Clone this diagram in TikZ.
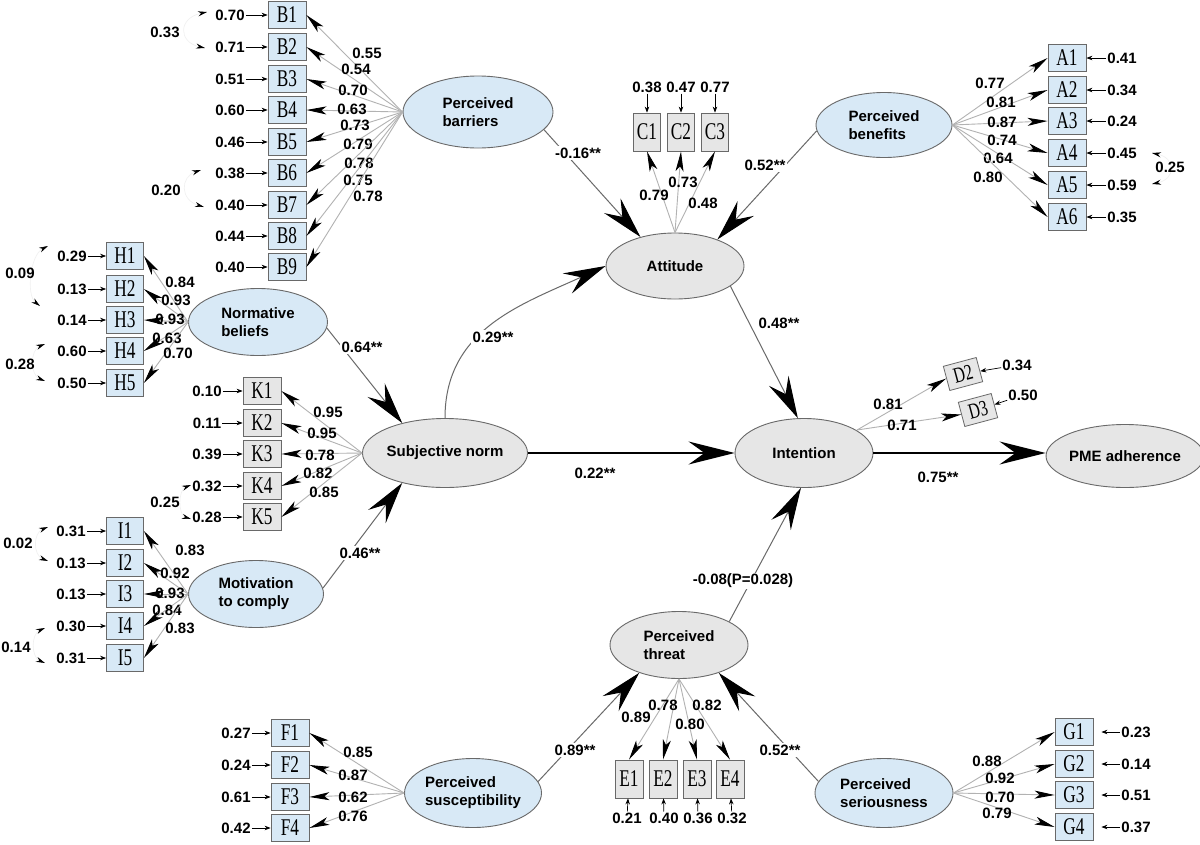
\documentclass[tikz,border=0pt]{standalone}
\usepackage{fontspec}
\setsansfont{Liberation Sans}
\newfontfamily\boxfont[FakeStretch=0.72]{Liberation Serif}
\usetikzlibrary{arrows.meta,shapes.geometric}
\definecolor{latblue}{RGB}{216,233,246}
\definecolor{latgray}{RGB}{230,230,230}
\definecolor{edgecol}{RGB}{105,105,105}
\tikzset{
  lat/.style={ellipse, draw=edgecol, line width=0.9pt, inner sep=0pt, align=left,
    font=\sffamily\bfseries\fontsize{15}{18}\selectfont},
  latb/.style={lat, fill=latblue},
  latg/.style={lat, fill=latgray},
  obs/.style={rectangle, draw=edgecol, line width=0.8pt, inner sep=0pt,
    minimum width=38pt, minimum height=27pt, font=\boxfont\fontsize{24}{24}\selectfont},
  obsv/.style={obs, minimum width=27pt, minimum height=38pt},
  num/.style={inner sep=1pt, font=\sffamily\bfseries\fontsize{15}{17}\selectfont},
  slab/.style={num, fill=white, inner sep=1.5pt},
  load/.style={draw=gray!60, line width=0.9pt, -{Stealth[length=20pt,width=8pt,inset=5pt,color=black]}},
  spath/.style={draw=edgecol, line width=1pt, -{Stealth[length=42pt,width=22pt,inset=15pt,color=black]}},
  mainpath/.style={draw=black, line width=2pt, -{Stealth[length=46pt,width=23pt,inset=16pt]}},
  err/.style={draw=black, line width=0.7pt, -{Stealth[length=6pt,width=4.5pt]}},
  cor/.style={draw=gray!12, line width=0.6pt,
    {Stealth[length=9pt,width=5pt,color=black]}-{Stealth[length=9pt,width=5pt,color=black]}}
}
\begin{document}
\begin{tikzpicture}[x=1pt,y=-1pt]
\useasboundingbox[fill=white] (0,0) rectangle (1200,844);

% ---------- latent variables ----------
\node[latb, minimum width=150pt, minimum height=72pt] (PB) at (478,112) {Perceived\\barriers};
\node[latg, minimum width=138pt, minimum height=66pt] (AT) at (675,266) {Attitude};
\node[latb, minimum width=136pt, minimum height=65pt] (PBe) at (884,125) {Perceived\\benefits};
\node[latb, minimum width=139pt, minimum height=67pt] (NB) at (258,322) {Normative\\beliefs};
\node[latg, minimum width=136pt, minimum height=69pt] (SN) at (445,453) {Subjective norm};
\node[latg, minimum width=138pt, minimum height=69pt] (IN) at (804,453) {Intention};
\node[latg, minimum width=146pt, minimum height=63pt] (PME) at (1125,456) {PME adherence};
\node[latb, minimum width=135pt, minimum height=67pt] (MC) at (256,594) {Motivation\\to comply};
\node[latg, minimum width=138pt, minimum height=67pt] (PT) at (679,645) {Perceived\\threat};
\node[latb, minimum width=137pt, minimum height=69pt] (PS) at (473,793) {Perceived\\susceptibility};
\node[latb, minimum width=138pt, minimum height=69pt] (PSe) at (884,793) {Perceived\\seriousness};

% ---------- B items ----------
\foreach \i/\y/\e/\lx/\ly/\l in {1/15/0.70/367/53/0.55, 2/47/0.71/356/69/0.54, 3/79/0.51/353/90/0.70,
  4/110/0.60/352/109/0.63, 5/142/0.46/355/125/0.73, 6/173/0.38/358/144/0.79,
  7/205/0.40/359/163/0.78, 8/236/0.44/358/180/0.75, 9/267/0.40/368/196/0.78}{
  \node[obs, fill=latblue] (B\i) at (287,\y) {B\i};
  \node[num] (eB\i) at (230,\y) {\e};
  \draw[err] (eB\i) -- (B\i);
  \draw[load] (PB.west) -- (B\i.east);
  \node[num] (lB\i) at (\lx,\ly) {\l};
}

% ---------- H items ----------
\foreach \i/\y/\e/\lx/\ly/\l in {1/256/0.29/180/282/0.84, 2/289/0.13/176/300/0.93,
  3/320/0.14/170/319/0.93, 4/351/0.60/167/338/0.63, 5/383/0.50/178/353/0.70}{
  \node[obs, fill=latblue, minimum width=37pt] (H\i) at (125,\y) {H\i};
  \node[num] (eH\i) at (72,\y) {\e};
  \draw[err] (eH\i) -- (H\i);
  \draw[load] (NB.west) -- (H\i.east);
  \node[num] (lH\i) at (\lx,\ly) {\l};
}

% ---------- K items ----------
\foreach \i/\y/\e/\lx/\ly/\l in {1/391/0.10/328/412/0.95, 2/423/0.11/322/433/0.95,
  3/454/0.39/320/455/0.78, 4/486/0.32/318/473/0.82, 5/517/0.28/324/492/0.85}{
  \node[obs, fill=latgray] (K\i) at (262,\y) {K\i};
  \node[num] (eK\i) at (207,\y) {\e};
  \draw[err] (eK\i) -- (K\i);
  \draw[load] (SN.west) -- (K\i.east);
  \node[num] (lK\i) at (\lx,\ly) {\l};
}

% ---------- I items ----------
\foreach \i/\y/\e/\lx/\ly/\l in {1/531/0.31/190/550/0.83, 2/563/0.13/175/573/0.92,
  3/594/0.13/170/593/0.93, 4/626/0.30/167/610/0.84, 5/658/0.31/180/628/0.83}{
  \node[obs, fill=latblue, minimum width=37pt] (I\i) at (125,\y) {I\i};
  \node[num] (eI\i) at (71,\y) {\e};
  \draw[err] (eI\i) -- (I\i);
  \draw[load] (MC.west) -- (I\i.east);
  \node[num] (lI\i) at (\lx,\ly) {\l};
}

% ---------- F items ----------
\foreach \i/\y/\e/\lx/\ly/\l in {1/733/0.27/358/752/0.85, 2/765/0.24/353/775/0.87,
  3/797/0.61/353/797/0.62, 4/828/0.42/353/816/0.76}{
  \node[obs, fill=latblue] (F\i) at (290,\y) {F\i};
  \node[num] (eF\i) at (236,\y) {\e};
  \draw[err] (eF\i) -- (F\i);
  \draw[load] (PS.west) -- (F\i.east);
  \node[num] (lF\i) at (\lx,\ly) {\l};
}

% ---------- A items ----------
\foreach \i/\y/\e/\lx/\ly/\l in {1/58/0.41/990/83/0.77, 2/90/0.34/1001/102/0.81,
  3/121/0.24/1002/122/0.87, 4/153/0.45/1002/140/0.74, 5/185/0.59/998/158/0.64,
  6/217/0.35/988/177/0.80}{
  \node[obs, fill=latblue] (A\i) at (1067,\y) {A\i};
  \node[num] (eA\i) at (1122,\y) {\e};
  \draw[err] (eA\i) -- (A\i);
  \draw[load] (PBe.east) -- (A\i.west);
  \node[num] (lA\i) at (\lx,\ly) {\l};
}

% ---------- G items ----------
\foreach \i/\y/\e/\lx/\ly/\l in {1/732/0.23/987/761/0.88, 2/764/0.14/1000/778/0.92,
  3/795/0.51/1000/797/0.70, 4/827/0.37/997/813/0.79}{
  \node[obs, fill=latblue] (G\i) at (1074,\y) {G\i};
  \node[num] (eG\i) at (1136,\y) {\e};
  \draw[err, shorten >=8pt] (eG\i) -- (G\i);
  \draw[load] (PSe.east) -- (G\i.west);
  \node[num] (lG\i) at (\lx,\ly) {\l};
}

% ---------- C items ----------
\foreach \i/\x/\e/\lx/\ly/\l in {1/647/0.38/654/195/0.79, 2/681/0.47/683/182/0.73,
  3/715/0.77/703/203/0.48}{
  \node[obsv, fill=latgray] (C\i) at (\x,132) {C\i};
  \node[num] (eC\i) at (\x,87) {\e};
  \draw[err] (eC\i) -- (C\i);
  \draw[load] (AT.north) -- (C\i.south);
  \node[num] (lC\i) at (\lx,\ly) {\l};
}

% ---------- E items ----------
\foreach \i/\x/\ex/\e/\lx/\ly/\l in {1/629/627/0.21/636/717/0.89, 2/663/664/0.40/663/705/0.78,
  3/697/698/0.36/690/724/0.80, 4/730/732/0.32/707/705/0.82}{
  \node[obsv, fill=latgray, minimum width=28pt] (E\i) at (\x,779) {E\i};
  \node[num] (eE\i) at (\ex,818) {\e};
  \draw[err] (eE\i) -- (E\i);
  \draw[load] (PT.south) -- (E\i.north);
  \node[num] (lE\i) at (\lx,\ly) {\l};
}

% ---------- D items ----------
\coordinate (inD) at (857,430);
\node[obs, fill=latgray, minimum width=34pt, minimum height=25pt, rotate=15,
  font=\boxfont\fontsize{22}{22}\selectfont] (D2) at (963,374) {D2};
\node[obs, fill=latgray, minimum width=34pt, minimum height=25pt, rotate=15,
  font=\boxfont\fontsize{22}{22}\selectfont] (D3) at (978,410) {D3};
\node[num] (eD2) at (1017,365) {0.34};
\node[num] (eD3) at (1023,395) {0.50};
\draw[err] (eD2) -- (D2);
\draw[err] (eD3) -- (D3);
\draw[load] (inD) -- (D2.west);
\draw[load] (inD) -- (D3.west);
\node[num] (lD2) at (888,404) {0.81};
\node[num] (lD3) at (902,425) {0.71};

% ---------- error covariances ----------
\coordinate (c33a) at (207,12);  \coordinate (c33b) at (205,48);
\draw[cor] (c33a) .. controls (178,18) and (178,42) .. (c33b);
\node[num] (k33) at (165,32) {0.33};
\coordinate (c20a) at (201,170); \coordinate (c20b) at (204,207);
\draw[cor] (c20a) .. controls (180,177) and (180,200) .. (c20b);
\node[num] (k20) at (166,190) {0.20};
\coordinate (c09a) at (48,246);  \coordinate (c09b) at (40,306);
\draw[cor] (c09a) .. controls (30,255) and (26,295) .. (c09b);
\node[num] (k09) at (20,273) {0.09};
\coordinate (c28a) at (45,344);  \coordinate (c28b) at (45,381);
\draw[cor] (c28a) .. controls (30,350) and (30,375) .. (c28b);
\node[num] (k28) at (20,364) {0.28};
\coordinate (c25a) at (191,485); \coordinate (c25b) at (191,519);
\draw[cor] (c25a) .. controls (178,490) and (178,515) .. (c25b);
\node[num] (k25) at (165,502) {0.25};
\coordinate (c02a) at (48,527);  \coordinate (c02b) at (48,561);
\draw[cor] (c02a) .. controls (33,533) and (33,555) .. (c02b);
\node[num] (k02) at (18,543) {0.02};
\coordinate (c14a) at (45,628);  \coordinate (c14b) at (45,663);
\draw[cor] (c14a) .. controls (31,634) and (31,657) .. (c14b);
\node[num] (k14) at (16,647) {0.14};
\coordinate (cAa) at (1152,153); \coordinate (cAb) at (1152,184);
\draw[cor] (cAa) .. controls (1176,158) and (1176,179) .. (cAb);
\node[num] (kA25) at (1170,167) {0.25};

% ---------- structural paths ----------
\draw[spath] (PB.-15) -- (AT.140);
\node[slab] (sPB) at (578,153) {-0.16**};
\draw[spath] (PBe.185) -- (AT.32);
\node[slab] (sPBe) at (765,165) {0.52**};
\draw[spath] (NB.-5) -- (SN.145);
\node[slab] (sNB) at (362,347) {0.64**};
\draw[spath] (MC.5) -- (SN.215);
\node[slab] (sMC) at (360,553) {0.46**};
\draw[spath] (SN.north) .. controls (445,330) and (520,305) .. (AT.west);
\node[slab] (sSNAT) at (493,337) {0.29**};
\draw[mainpath] (SN.east) -- (IN.west);
\node[num] (sSNIN) at (595,473) {0.22**};
\draw[spath] (AT.-20) -- (IN.100);
\node[slab] (sATIN) at (779,323) {0.48**};
\draw[spath] (PT.25) -- (IN.265);
\node[slab] (sPTIN) at (743,581) {-0.08(P=0.028)};
\draw[mainpath] (IN.east) -- (PME.west |- IN.east);
\node[num] (sINPME) at (938,477) {0.75**};
\draw[spath] (PS.10) -- (PT.215);
\node[slab] (sPS) at (575,750) {0.89**};
\draw[spath] (PSe.170) -- (PT.-35);
\node[slab] (sPSe) at (780,750) {0.52**};
\end{tikzpicture}
\end{document}
